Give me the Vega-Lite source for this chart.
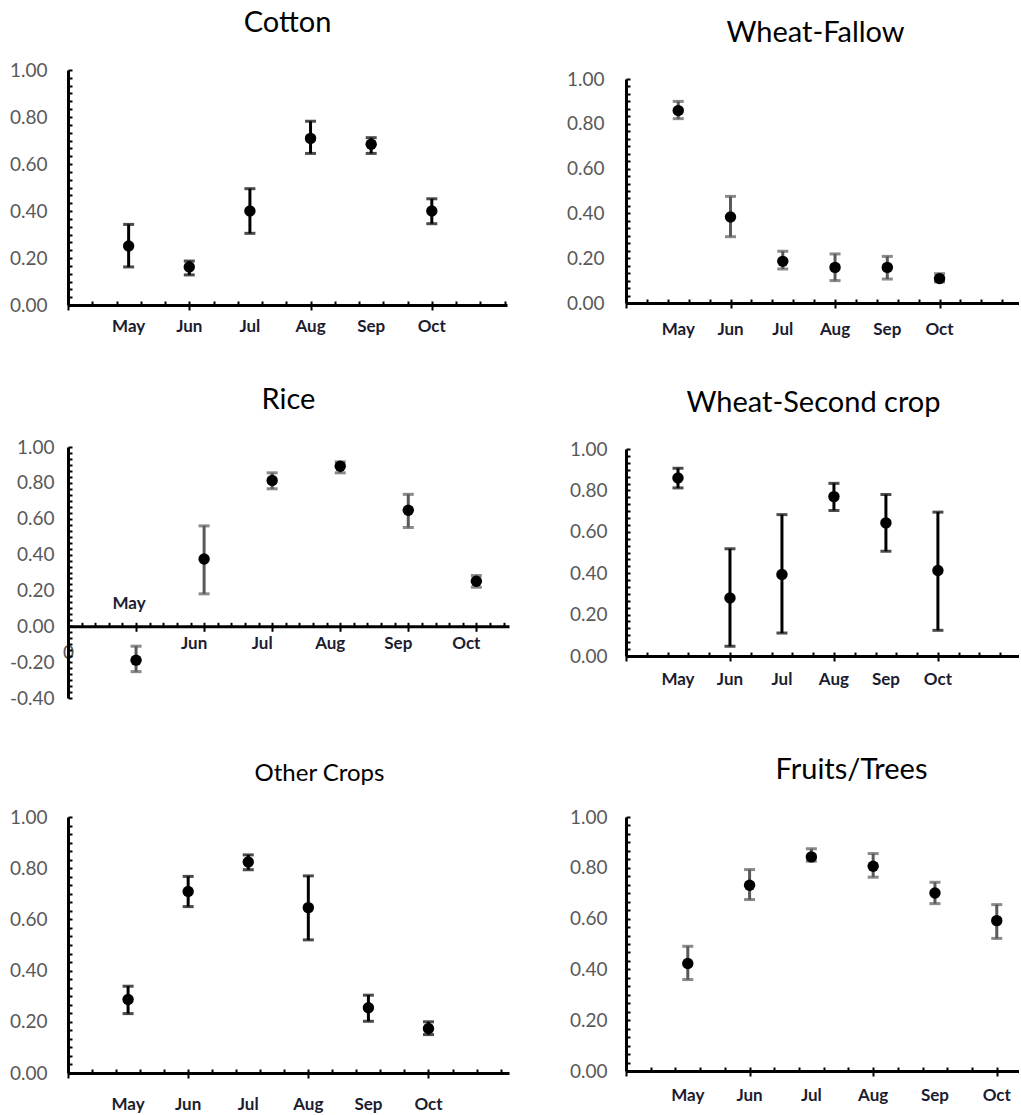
{
  "$schema": "https://vega.github.io/schema/vega-lite/v6.json",
  "padding": {"left": 9, "top": 8, "right": 0, "bottom": 0},
  "background": "white",
  "datasets": {
    "cotton": [
      {"month": "May", "x": 2.5, "v": 0.251, "lo": 0.162, "hi": 0.343},
      {"month": "Jun", "x": 5, "v": 0.162, "lo": 0.128, "hi": 0.187},
      {"month": "Jul", "x": 7.5, "v": 0.40, "lo": 0.305, "hi": 0.495},
      {"month": "Aug", "x": 10, "v": 0.709, "lo": 0.645, "hi": 0.782},
      {"month": "Sep", "x": 12.5, "v": 0.684, "lo": 0.645, "hi": 0.712},
      {"month": "Oct", "x": 15, "v": 0.40, "lo": 0.346, "hi": 0.452}
    ],
    "fallow": [
      {"month": "May", "x": 2.5, "v": 0.859, "lo": 0.823, "hi": 0.900},
      {"month": "Jun", "x": 5, "v": 0.384, "lo": 0.296, "hi": 0.476},
      {"month": "Jul", "x": 7.5, "v": 0.186, "lo": 0.152, "hi": 0.231},
      {"month": "Aug", "x": 10, "v": 0.159, "lo": 0.100, "hi": 0.219},
      {"month": "Sep", "x": 12.5, "v": 0.159, "lo": 0.107, "hi": 0.208},
      {"month": "Oct", "x": 15, "v": 0.109, "lo": 0.094, "hi": 0.131}
    ],
    "rice": [
      {"month": "May", "x": 5, "v": -0.189, "lo": -0.253, "hi": -0.111},
      {"month": "Jun", "x": 10, "v": 0.375, "lo": 0.181, "hi": 0.560},
      {"month": "Jul", "x": 15, "v": 0.813, "lo": 0.767, "hi": 0.856},
      {"month": "Aug", "x": 20, "v": 0.893, "lo": 0.856, "hi": 0.917},
      {"month": "Sep", "x": 25, "v": 0.647, "lo": 0.551, "hi": 0.736},
      {"month": "Oct", "x": 30, "v": 0.251, "lo": 0.218, "hi": 0.283}
    ],
    "second": [
      {"month": "May", "x": 2.5, "v": 0.860, "lo": 0.812, "hi": 0.907},
      {"month": "Jun", "x": 5, "v": 0.280, "lo": 0.047, "hi": 0.518},
      {"month": "Jul", "x": 7.5, "v": 0.394, "lo": 0.111, "hi": 0.683},
      {"month": "Aug", "x": 10, "v": 0.770, "lo": 0.703, "hi": 0.834},
      {"month": "Sep", "x": 12.5, "v": 0.643, "lo": 0.506, "hi": 0.780},
      {"month": "Oct", "x": 15, "v": 0.413, "lo": 0.124, "hi": 0.695}
    ],
    "other": [
      {"month": "May", "x": 2.5, "v": 0.287, "lo": 0.232, "hi": 0.339},
      {"month": "Jun", "x": 5, "v": 0.709, "lo": 0.650, "hi": 0.768},
      {"month": "Jul", "x": 7.5, "v": 0.824, "lo": 0.794, "hi": 0.852},
      {"month": "Aug", "x": 10, "v": 0.646, "lo": 0.520, "hi": 0.770},
      {"month": "Sep", "x": 12.5, "v": 0.255, "lo": 0.202, "hi": 0.304},
      {"month": "Oct", "x": 15, "v": 0.174, "lo": 0.150, "hi": 0.200}
    ],
    "fruits": [
      {"month": "May", "x": 2.5, "v": 0.423, "lo": 0.360, "hi": 0.491},
      {"month": "Jun", "x": 5, "v": 0.731, "lo": 0.675, "hi": 0.793},
      {"month": "Jul", "x": 7.5, "v": 0.843, "lo": 0.826, "hi": 0.875},
      {"month": "Aug", "x": 10, "v": 0.806, "lo": 0.763, "hi": 0.856},
      {"month": "Sep", "x": 12.5, "v": 0.701, "lo": 0.659, "hi": 0.743},
      {"month": "Oct", "x": 15, "v": 0.592, "lo": 0.522, "hi": 0.655}
    ]
  },
  "spacing": 57,
  "hconcat": [
    {
      "spacing": 0,
      "vconcat": [
        {"data": {"name": "cotton"}, "width": 1, "height": 1, "mark": {"type": "point", "opacity": 0, "size": 0}},
        {
          "spacing": 51,
          "vconcat": [
            {
              "data": {"name": "cotton"},
              "width": 439, "height": 235,
              "title": {"text": "Cotton", "fontSize": 29, "offset": 23, "frame": "group"},
              "resolve": {"axis": {"x": "independent"}},
              "layer": [
                {"mark": {"type": "errorbar", "ticks": true, "size": 11, "thickness": 3, "color": "#000000"},
                 "encoding": {
                   "x": {"field": "x", "type": "quantitative", "title": null,
                     "scale": {"domain": [0, 18.1], "nice": false, "zero": false},
                     "axis": {"values": [0,1,2,3,4,5,6,7,8,9,10,11,12,13,14,15,16,17,18], "labels": false}},
                   "y": {"field": "lo", "type": "quantitative", "title": null,
                   "scale": {"domain": [0, 1], "nice": false},
                   "axis": {"values": [0,0.0333,0.0667,0.1,0.1333,0.1667,0.2,0.2333,0.2667,0.3,0.3333,0.3667,0.4,0.4333,0.4667,0.5,0.5333,0.5667,0.6,0.6333,0.6667,0.7,0.7333,0.7667,0.8,0.8333,0.8667,0.9,0.9333,0.9667,1],
                     "labelExpr": "abs(datum.value*5 - round(datum.value*5)) < 0.01 ? format(datum.value, '.2f') : ''", "labelPadding": 25}},
                   "y2": {"field": "hi"}}},
                {"mark": {"type": "circle", "size": 130, "color": "#000000", "opacity": 1},
                 "encoding": {
                   "x": {"field": "x", "type": "quantitative", "title": null,
                     "axis": {"orient": "bottom", "values": [0,5,10,15], "labels": false, "domain": false, "tickSize": 5}},
                   "y": {"field": "v", "type": "quantitative", "title": null}}},
                {"mark": {"type": "text", "fontWeight": "bold", "fontSize": 17, "color": "#1c1c30", "baseline": "middle", "dy": 22},
                 "encoding": {"x": {"field": "x", "type": "quantitative", "axis": null}, "y": {"datum": 0}, "text": {"field": "month"}}}
              ]
            },
            {
              "spacing": 54,
              "vconcat": [
                {
                  "data": {"name": "rice"},
                  "width": 441, "height": 251,
                  "title": {"text": "Rice", "fontSize": 29, "offset": 23, "frame": "group"},
                  "resolve": {"axis": {"x": "independent"}},
                  "layer": [
                    {"mark": {"type": "errorbar", "ticks": true, "size": 11, "thickness": 3, "color": "#595959"},
                     "encoding": {
                       "x": {"field": "x", "type": "quantitative", "title": null,
                         "scale": {"domain": [0, 32.4], "nice": false, "zero": false},
                         "axis": {"values": [0,1,2,3,4,5,6,7,8,9,10,11,12,13,14,15,16,17,18,19,20,21,22,23,24,25,26,27,28,29,30,31,32],
                           "offset": -71.7, "labelExpr": "datum.value == 0 ? '0' : ''", "labelPadding": 21}},
                       "y": {"field": "lo", "type": "quantitative", "title": null,
                       "scale": {"domain": [-0.4, 1], "nice": false},
                       "axis": {"values": [-0.4,-0.3667,-0.3333,-0.3,-0.2667,-0.2333,-0.2,-0.1667,-0.1333,-0.1,-0.0667,-0.0333,0,0.0333,0.0667,0.1,0.1333,0.1667,0.2,0.2333,0.2667,0.3,0.3333,0.3667,0.4,0.4333,0.4667,0.5,0.5333,0.5667,0.6,0.6333,0.6667,0.7,0.7333,0.7667,0.8,0.8333,0.8667,0.9,0.9333,0.9667,1],
                         "labelExpr": "abs(datum.value*5 - round(datum.value*5)) < 0.01 ? replace(format(datum.value, '.2f'), '\u2212', '-') : ''", "labelPadding": 18}},
                       "y2": {"field": "hi"}}},
                    {"mark": {"type": "circle", "size": 130, "color": "#000000", "opacity": 1},
                     "encoding": {
                       "x": {"field": "x", "type": "quantitative", "title": null,
                         "axis": {"orient": "bottom", "offset": -71.7, "values": [0,5,10,15,20,25,30], "labels": false, "domain": false, "tickSize": 5}},
                       "y": {"field": "v", "type": "quantitative", "title": null}}},
                    {"transform": [{"filter": "datum.month == 'May'"}],
                     "mark": {"type": "text", "fontWeight": "bold", "fontSize": 17, "color": "#1c1c30", "baseline": "middle", "dy": -22, "dx": -7},
                     "encoding": {"x": {"field": "x", "type": "quantitative", "axis": null}, "y": {"datum": 0}, "text": {"field": "month"}}},
                    {"transform": [{"filter": "datum.month != 'May'"}],
                     "mark": {"type": "text", "fontWeight": "bold", "fontSize": 17, "color": "#1c1c30", "baseline": "middle", "dy": 18, "dx": -10},
                     "encoding": {"x": {"field": "x", "type": "quantitative", "axis": null}, "y": {"datum": 0}, "text": {"field": "month"}}}
                  ]
                },
                {
                  "data": {"name": "other"},
                  "width": 441, "height": 256,
                  "title": {"text": "Other Crops", "fontSize": 24, "offset": 22, "frame": "group", "dx": 31},
                  "resolve": {"axis": {"x": "independent"}},
                  "layer": [
                    {"mark": {"type": "errorbar", "ticks": true, "size": 11, "thickness": 3, "color": "#000000"},
                     "encoding": {
                       "x": {"field": "x", "type": "quantitative", "title": null,
                         "scale": {"domain": [0, 18.35], "nice": false, "zero": false},
                         "axis": {"values": [0,1,2,3,4,5,6,7,8,9,10,11,12,13,14,15,16,17,18], "labels": false}},
                       "y": {"field": "lo", "type": "quantitative", "title": null,
                       "scale": {"domain": [0, 1], "nice": false},
                       "axis": {"values": [0,0.0333,0.0667,0.1,0.1333,0.1667,0.2,0.2333,0.2667,0.3,0.3333,0.3667,0.4,0.4333,0.4667,0.5,0.5333,0.5667,0.6,0.6333,0.6667,0.7,0.7333,0.7667,0.8,0.8333,0.8667,0.9,0.9333,0.9667,1],
                         "labelExpr": "abs(datum.value*5 - round(datum.value*5)) < 0.01 ? format(datum.value, '.2f') : ''", "labelPadding": 25}},
                       "y2": {"field": "hi"}}},
                    {"mark": {"type": "circle", "size": 130, "color": "#000000", "opacity": 1},
                     "encoding": {
                       "x": {"field": "x", "type": "quantitative", "title": null,
                         "axis": {"orient": "bottom", "values": [0,5,10,15], "labels": false, "domain": false, "tickSize": 5}},
                       "y": {"field": "v", "type": "quantitative", "title": null}}},
                    {"mark": {"type": "text", "fontWeight": "bold", "fontSize": 17, "color": "#1c1c30", "baseline": "middle", "dy": 32},
                     "encoding": {"x": {"field": "x", "type": "quantitative", "axis": null}, "y": {"datum": 0}, "text": {"field": "month"}}}
                  ]
                }
              ]
            }
          ]
        }
      ]
    },
    {
      "spacing": 10,
      "vconcat": [
        {"data": {"name": "fallow"}, "width": 1, "height": 1, "mark": {"type": "point", "opacity": 0, "size": 0}},
        {
          "spacing": 51,
          "vconcat": [
            {
              "data": {"name": "fallow"},
              "width": 393, "height": 224,
              "title": {"text": "Wheat-Fallow", "fontSize": 29, "offset": 22, "frame": "group", "dx": -7},
              "resolve": {"axis": {"x": "independent"}},
              "layer": [
                {"mark": {"type": "errorbar", "ticks": true, "size": 11, "thickness": 3, "color": "#595959"},
                 "encoding": {
                   "x": {"field": "x", "type": "quantitative", "title": null,
                     "scale": {"domain": [0, 18.8], "nice": false, "zero": false},
                     "axis": {"values": [0,1,2,3,4,5,6,7,8,9,10,11,12,13,14,15,16,17,18], "labels": false}},
                   "y": {"field": "lo", "type": "quantitative", "title": null,
                   "scale": {"domain": [0, 1], "nice": false},
                   "axis": {"values": [0,0.0333,0.0667,0.1,0.1333,0.1667,0.2,0.2333,0.2667,0.3,0.3333,0.3667,0.4,0.4333,0.4667,0.5,0.5333,0.5667,0.6,0.6333,0.6667,0.7,0.7333,0.7667,0.8,0.8333,0.8667,0.9,0.9333,0.9667,1],
                     "labelExpr": "abs(datum.value*5 - round(datum.value*5)) < 0.01 ? format(datum.value, '.2f') : ''", "labelPadding": 26}},
                   "y2": {"field": "hi"}}},
                {"mark": {"type": "circle", "size": 130, "color": "#000000", "opacity": 1},
                 "encoding": {
                   "x": {"field": "x", "type": "quantitative", "title": null,
                     "axis": {"orient": "bottom", "values": [0,5,10,15], "labels": false, "domain": false, "tickSize": 5}},
                   "y": {"field": "v", "type": "quantitative", "title": null}}},
                {"mark": {"type": "text", "fontWeight": "bold", "fontSize": 17, "color": "#1c1c30", "baseline": "middle", "dy": 27},
                 "encoding": {"x": {"field": "x", "type": "quantitative", "axis": null}, "y": {"datum": 0}, "text": {"field": "month"}}}
              ]
            },
            {
              "spacing": 68,
              "vconcat": [
                {
                  "data": {"name": "second"},
                  "width": 393, "height": 207,
                  "title": {"text": "Wheat-Second crop", "fontSize": 29, "offset": 22, "frame": "group", "dx": -9},
                  "resolve": {"axis": {"x": "independent"}},
                  "layer": [
                    {"mark": {"type": "errorbar", "ticks": true, "size": 11, "thickness": 3, "color": "#000000"},
                     "encoding": {
                       "x": {"field": "x", "type": "quantitative", "title": null,
                         "scale": {"domain": [0, 18.9], "nice": false, "zero": false},
                         "axis": {"values": [0,1,2,3,4,5,6,7,8,9,10,11,12,13,14,15,16,17,18], "labels": false}},
                       "y": {"field": "lo", "type": "quantitative", "title": null,
                       "scale": {"domain": [0, 1], "nice": false},
                       "axis": {"values": [0,0.0333,0.0667,0.1,0.1333,0.1667,0.2,0.2333,0.2667,0.3,0.3333,0.3667,0.4,0.4333,0.4667,0.5,0.5333,0.5667,0.6,0.6333,0.6667,0.7,0.7333,0.7667,0.8,0.8333,0.8667,0.9,0.9333,0.9667,1],
                         "labelExpr": "abs(datum.value*5 - round(datum.value*5)) < 0.01 ? format(datum.value, '.2f') : ''", "labelPadding": 23}},
                       "y2": {"field": "hi"}}},
                    {"mark": {"type": "circle", "size": 130, "color": "#000000", "opacity": 1},
                     "encoding": {
                       "x": {"field": "x", "type": "quantitative", "title": null,
                         "axis": {"orient": "bottom", "values": [0,5,10,15], "labels": false, "domain": false, "tickSize": 5}},
                       "y": {"field": "v", "type": "quantitative", "title": null}}},
                    {"mark": {"type": "text", "fontWeight": "bold", "fontSize": 17, "color": "#1c1c30", "baseline": "middle", "dy": 24},
                     "encoding": {"x": {"field": "x", "type": "quantitative", "axis": null}, "y": {"datum": 0}, "text": {"field": "month"}}}
                  ]
                },
                {
                  "data": {"name": "fruits"},
                  "width": 393, "height": 254,
                  "title": {"text": "Fruits/Trees", "fontSize": 29, "offset": 23, "frame": "group", "dx": 29},
                  "resolve": {"axis": {"x": "independent"}},
                  "layer": [
                    {"mark": {"type": "errorbar", "ticks": true, "size": 11, "thickness": 3, "color": "#595959"},
                     "encoding": {
                       "x": {"field": "x", "type": "quantitative", "title": null,
                         "scale": {"domain": [0, 15.9], "nice": false, "zero": false},
                         "axis": {"values": [0,1,2,3,4,5,6,7,8,9,10,11,12,13,14,15], "labels": false}},
                       "y": {"field": "lo", "type": "quantitative", "title": null,
                       "scale": {"domain": [0, 1], "nice": false},
                       "axis": {"values": [0,0.0333,0.0667,0.1,0.1333,0.1667,0.2,0.2333,0.2667,0.3,0.3333,0.3667,0.4,0.4333,0.4667,0.5,0.5333,0.5667,0.6,0.6333,0.6667,0.7,0.7333,0.7667,0.8,0.8333,0.8667,0.9,0.9333,0.9667,1],
                         "labelExpr": "abs(datum.value*5 - round(datum.value*5)) < 0.01 ? format(datum.value, '.2f') : ''", "labelPadding": 23}},
                       "y2": {"field": "hi"}}},
                    {"mark": {"type": "circle", "size": 130, "color": "#000000", "opacity": 1},
                     "encoding": {
                       "x": {"field": "x", "type": "quantitative", "title": null,
                         "axis": {"orient": "bottom", "values": [0,5,10,15], "labels": false, "domain": false, "tickSize": 5}},
                       "y": {"field": "v", "type": "quantitative", "title": null}}},
                    {"mark": {"type": "text", "fontWeight": "bold", "fontSize": 17, "color": "#1c1c30", "baseline": "middle", "dy": 25},
                     "encoding": {"x": {"field": "x", "type": "quantitative", "axis": null}, "y": {"datum": 0}, "text": {"field": "month"}}}
                  ]
                }
              ]
            }
          ]
        }
      ]
    }
  ],
  "config": {
    "view": {"stroke": null},
    "font": "Lato",
    "title": {"font": "Lato", "fontWeight": "normal", "color": "#000000", "anchor": "middle"},
    "text": {"font": "Lato"},
    "axis": {"grid": false, "domainColor": "#000000", "domainWidth": 3, "tickColor": "#000000", "tickWidth": 2, "tickSize": -4, "tickCount": 200,
      "labelFont": "Lato", "labelFontSize": 19, "labelColor": "#595959", "labelOverlap": false, "labelFlush": false, "labelBound": false}
  }
}
